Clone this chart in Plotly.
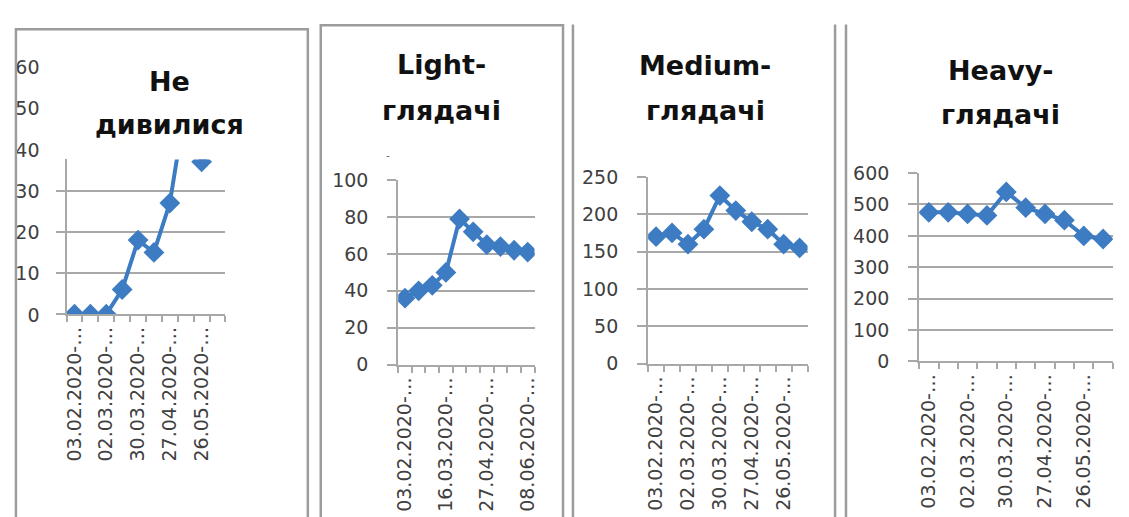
import plotly.graph_objects as go

W, H = 1129, 517

# Two-week periods (axis labels are truncated in the source charts)
periods = ["03.02.2020-…", "17.02.2020-…", "02.03.2020-…", "16.03.2020-…",
           "30.03.2020-…", "13.04.2020-…", "27.04.2020-…", "11.05.2020-…",
           "26.05.2020-…", "08.06.2020-…"]

# Viewers per group
not_watched = [0, 0, 0, 6, 18, 15, 27, 51, 37, 41]
light = [36, 40, 43, 50, 79, 72, 65, 64, 62, 61]
medium = [170, 175, 160, 180, 225, 205, 190, 180, 160, 155]
heavy = [475, 475, 470, 465, 540, 490, 470, 450, 400, 390]

titles = [["Не", "дивилися"], ["Light-", "глядачі"],
          ["Medium-", "глядачі"], ["Heavy-", "глядачі"]]

BLUE = "#3d7cc2"
GRID = "#a8a8a8"
TXT = "#404040"
FONT = "DejaVu Sans"


def fx(p):
    return p / W


def fy(p):
    return 1 - p / H


fig = go.Figure()

# panel geometry in pixels: x-left, x-right, y of zero, y of top, y range max, dtick, labelled ticks
panels = [
    dict(vals=not_watched, x0=62, x1=222, y0=316.7, y1=155.0, ymax=37.6, dtick=10, lab=[0, 2, 4, 6, 8]),
    dict(vals=light, x0=396, x1=533.3, y0=369.3, y1=176.7, ymax=100, dtick=20, lab=[0, 3, 6, 9]),
    dict(vals=medium, x0=647.7, x1=808.3, y0=368.3, y1=173.3, ymax=250, dtick=50, lab=[0, 2, 4, 6, 8]),
    dict(vals=heavy, x0=920.7, x1=1115.7, y0=366.0, y1=169.3, ymax=600, dtick=100, lab=[0, 2, 4, 6, 8]),
]

idx = list(range(len(periods)))
layout_axes = {}
for i, p in enumerate(panels, start=1):
    xa = "x" if i == 1 else f"x{i}"
    ya = "y" if i == 1 else f"y{i}"
    fig.add_trace(go.Scatter(
        x=idx, y=p["vals"], xaxis=xa, yaxis=ya, mode="lines+markers",
        line=dict(color=BLUE, width=4),
        marker=dict(symbol="diamond", size=16, color=BLUE),
        showlegend=False, hoverinfo="skip"))
    layout_axes[f"xaxis{i if i > 1 else ''}"] = dict(
        domain=[fx(p["x0"]), fx(p["x1"])], anchor=ya, range=[-0.5, 9.5],
        showgrid=False, zeroline=False, showline=True, linecolor=GRID, linewidth=2,
        tickmode="array", tickvals=p["lab"], ticktext=[periods[k] for k in p["lab"]],
        tickangle=-90, ticks="", ticklabelstandoff=3,
        tickfont=dict(family=FONT, size=19, color=TXT),
        minor=dict(tickmode="linear", tick0=-0.5, dtick=1, ticks="outside",
                   ticklen=6, tickwidth=2, tickcolor=GRID, showgrid=False),
        fixedrange=True)
    layout_axes[f"yaxis{i if i > 1 else ''}"] = dict(
        domain=[fy(p["y0"]), fy(p["y1"])], anchor=xa, range=[0, p["ymax"]],
        tick0=0, dtick=p["dtick"], showgrid=True, gridcolor=GRID, gridwidth=2,
        zeroline=False, showline=True, linecolor=GRID, linewidth=2,
        ticks="outside", ticklen=9, tickwidth=2, tickcolor=GRID,
        showticklabels=(i != 1), ticklabelstandoff=15,
        tickfont=dict(family=FONT, size=19, color=TXT), fixedrange=True)

# value labels of the first panel run higher than its plot area
fig.add_trace(go.Scatter(x=[None], y=[None], xaxis="x", yaxis="y5",
                         showlegend=False, hoverinfo="skip"))
layout_axes["yaxis5"] = dict(
    domain=[fy(317.5), fy(59)], anchor="x", range=[0, 60], tick0=0, dtick=10,
    showgrid=False, zeroline=False, showline=False, ticks="",
    ticklabelstandoff=26, tickfont=dict(family=FONT, size=19, color=TXT),
    fixedrange=True)

# panel titles (centre x, first line y, second line y)
title_pos = [(166, 74, 119), (440, 56, 104), (705, 57, 104), (1003, 62, 108)]
annotations = []
for (cx, y1, y2), (l1, l2) in zip(title_pos, titles):
    for yy, t in ((y1, l1), (y2, l2)):
        annotations.append(dict(
            x=fx(cx), y=fy(yy), xref="paper", yref="paper", text=t,
            showarrow=False, xanchor="center", yanchor="middle",
            font=dict(family=FONT, size=27, color="#111111", weight="bold")))
annotations.append(dict(x=fx(386), y=fy(142), xref="paper", yref="paper", text="-",
                        showarrow=False, font=dict(family=FONT, size=11, color="#666666")))

# chart frames
FRAME = dict(color="#9c9c9c", width=2.5)
shapes = [
    dict(type="rect", xref="paper", yref="paper", x0=fx(11), x1=fx(305), y0=fy(540), y1=fy(19), line=FRAME),
    dict(type="rect", xref="paper", yref="paper", x0=fx(318), x1=fx(562), y0=fy(540), y1=fy(15), line=FRAME),
    dict(type="line", xref="paper", yref="paper", x0=fx(572), x1=fx(572), y0=fy(540), y1=fy(14), line=FRAME),
    dict(type="line", xref="paper", yref="paper", x0=fx(836), x1=fx(836), y0=fy(540), y1=fy(14), line=FRAME),
    dict(type="line", xref="paper", yref="paper", x0=fx(847), x1=fx(847), y0=fy(540), y1=fy(14), line=FRAME),
]

fig.update_layout(
    width=W, height=H, margin=dict(l=0, r=0, t=0, b=0),
    paper_bgcolor="white", plot_bgcolor="rgba(0,0,0,0)",
    annotations=annotations, shapes=shapes, **layout_axes)

fig.write_html("out.html", config=dict(displayModeBar=False))
